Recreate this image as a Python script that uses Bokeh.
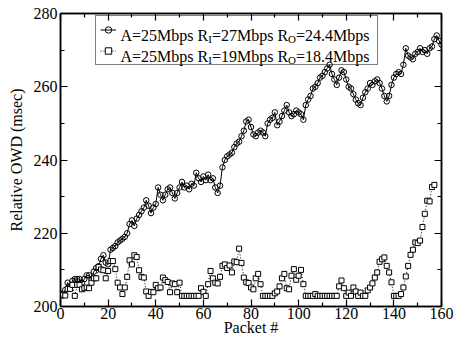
from bokeh.plotting import figure
from bokeh.models import (Range1d, LinearAxis, FixedTicker, Label, Legend,
                          LegendItem, CustomJSTickFormatter)
from bokeh.embed import file_html
from bokeh.resources import INLINE

# ---------------- data ----------------
packets_a = list(range(0, 161))
owd_a = [203.5, 203.0, 204.5, 206.5, 205.5, 207.0, 207.5, 207.5, 207.5, 206.5,
         207.5, 208.5, 208.5, 207.5, 209.5, 210.5, 211.0, 213.0, 214.0, 212.0,
         211.5, 215.5, 216.0, 216.5, 217.5, 218.0, 218.5, 219.0, 220.0, 222.5,
         223.5, 222.0, 224.0, 225.0, 226.0, 227.0, 229.0, 227.5, 225.5, 227.0,
         228.0, 232.5, 230.5, 229.0, 230.5, 232.0, 232.5, 231.0, 229.5, 231.0,
         232.5, 234.0, 232.5, 233.0, 232.0, 233.5, 233.0, 236.5, 235.0, 234.0,
         235.5, 234.5, 236.0, 234.5, 235.0, 232.5, 231.0, 233.0, 238.0, 240.0,
         241.0, 241.5, 242.0, 243.5, 244.5, 245.0, 246.5, 248.0, 250.5, 251.0,
         249.0, 247.0, 246.5, 247.5, 248.0, 247.5, 246.5, 250.0, 251.0, 251.5,
         253.0, 249.5, 250.5, 252.0, 253.5, 255.0, 253.0, 252.0, 252.5, 253.5,
         253.0, 252.5, 251.0, 255.0, 256.5, 257.5, 259.5, 260.0, 261.0, 262.5,
         263.0, 264.0, 265.0, 266.0, 263.5, 262.0, 260.5, 262.5, 264.5, 264.0,
         262.0, 260.0, 259.5, 258.0, 256.5, 255.5, 255.0, 257.0, 258.5, 259.5,
         261.0, 260.5, 261.5, 262.0, 261.0, 259.5, 257.5, 256.0, 257.5, 260.5,
         262.5, 263.5, 264.0, 263.5, 266.0, 270.5, 268.5, 268.0, 267.5, 269.0,
         269.5, 270.5, 269.5, 270.0, 269.0, 270.5, 271.0, 273.0, 274.0, 272.5,
         271.5]

packets_b = list(range(0, 158))
owd_b = [203.2, 203.2, 203.0, 204.8, 204.8, 205.9, 202.9, 205.9, 205.9, 204.7,
         205.0, 205.2, 205.0, 206.5, 207.7, 207.7, 210.8, 210.1, 209.9, 207.7,
         209.7, 212.4, 212.4, 210.2, 206.5, 205.2, 203.4, 205.2, 208.1, 212.6,
         211.5, 214.0, 213.5, 209.9, 208.1, 207.9, 204.1, 202.9, 204.0, 203.9,
         205.9, 205.0, 205.2, 207.9, 207.2, 206.7, 203.9, 206.3, 206.1, 203.9,
         206.5, 202.9, 202.9, 202.9, 202.9, 202.9, 202.9, 202.9, 202.9, 205.0,
         204.0, 202.9, 206.1, 209.7, 207.7, 206.5, 206.3, 208.1, 211.1, 211.5,
         210.5, 211.2, 209.3, 212.3, 212.1, 215.8, 211.9, 207.9, 206.6, 206.4,
         205.2, 204.7, 207.7, 208.9, 206.1, 202.9, 202.9, 202.9, 202.9, 202.9,
         203.6, 204.1, 205.5, 207.7, 208.9, 205.0, 204.7, 208.4, 210.2, 207.3,
         208.4, 210.0, 206.1, 202.9, 202.9, 202.9, 202.9, 203.4, 202.9, 202.9,
         202.9, 202.9, 202.9, 202.9, 202.9, 202.9, 202.9, 205.5, 207.1, 205.0,
         202.9, 203.8, 202.9, 205.2, 204.1, 202.9, 203.8, 202.9, 202.9, 204.4,
         205.2, 206.3, 207.9, 209.3, 212.2, 212.9, 213.4, 211.1, 209.3, 206.6,
         202.9, 202.9, 202.9, 203.4, 205.2, 208.2, 211.1, 214.1, 215.5, 217.5,
         217.3, 218.0, 221.7, 225.3, 228.9, 228.7, 232.6, 233.2]

x_major_ticks = [0, 20, 40, 60, 80, 100, 120, 140, 160]
x_minor_ticks = [10, 30, 50, 70, 90, 110, 130, 150]
y_major_ticks = [200, 220, 240, 260, 280]
y_minor_ticks = [210, 230, 250, 270]

x_title = "Packet #"
y_title = "Relative OWD (msec)"

# legend text pieces: (text, is_subscript)
legend_a = [("A=25Mbps R", False), ("I", True), ("=27Mbps R", False), ("O", True), ("=24.4Mbps", False)]
legend_b = [("A=25Mbps R", False), ("I", True), ("=19Mbps R", False), ("O", True), ("=18.4Mbps", False)]

FONT = "Liberation Serif"

# ---------------- figure ----------------
p = figure(width=458, height=339, output_backend="svg", toolbar_location=None,
           x_range=Range1d(0, 160), y_range=Range1d(200, 280),
           min_border_left=60, min_border_right=17, min_border_top=13,
           min_border_bottom=33, x_axis_label=x_title, y_axis_label=y_title)
p.xgrid.visible = False
p.ygrid.visible = False
p.outline_line_color = "black"
p.outline_line_width = 1.5
p.background_fill_color = "white"
p.border_fill_color = "white"

xt = FixedTicker(ticks=x_major_ticks, minor_ticks=x_minor_ticks)
yt = FixedTicker(ticks=y_major_ticks, minor_ticks=y_minor_ticks)

def style_axis(ax, labels=True):
    ax.axis_line_color = "black"
    ax.axis_line_width = 1.5
    ax.major_tick_in = 7
    ax.major_tick_out = 0
    ax.minor_tick_in = 4
    ax.minor_tick_out = 0
    ax.major_tick_line_width = 1.2
    ax.minor_tick_line_width = 1.2
    ax.major_label_text_font = FONT
    ax.major_label_text_font_size = "16px"
    ax.major_label_text_color = "black"
    ax.axis_label_text_font = FONT
    ax.axis_label_text_font_size = "16px"
    ax.axis_label_text_font_style = "normal"
    ax.axis_label_text_color = "black"
    if not labels:
        ax.formatter = CustomJSTickFormatter(code="return ''")
        ax.major_label_text_font_size = "0px"
        ax.major_label_standoff = 0

p.xaxis.ticker = xt
p.yaxis.ticker = yt
style_axis(p.xaxis[0])
style_axis(p.yaxis[0])
p.xaxis.major_label_standoff = 1
p.xaxis.axis_label_standoff = -3
p.yaxis.major_label_standoff = 3
p.yaxis.axis_label_standoff = 6

top_ax = LinearAxis(ticker=xt)
right_ax = LinearAxis(ticker=yt)
style_axis(top_ax, labels=False)
style_axis(right_ax, labels=False)
p.add_layout(top_ax, "above")
p.add_layout(right_ax, "right")

# ---------------- series ----------------
la = p.line(packets_a, owd_a, line_color="black", line_width=1)
sa = p.scatter(packets_a, owd_a, marker="circle", size=5.5, line_color="black",
               line_width=1, fill_alpha=0)
lb = p.line(packets_b, owd_b, line_color="black", line_width=1, line_dash="1 2")
sb = p.scatter(packets_b, owd_b, marker="square", size=5, line_color="black",
               line_width=1, fill_color="white")

legend = Legend(items=[LegendItem(label=" ", renderers=[la, sa]),
                       LegendItem(label=" ", renderers=[lb, sb])],
                location=(35, 241), orientation="vertical",
                padding=4, spacing=2, margin=0,
                glyph_width=16, glyph_height=19, label_height=19,
                label_width=252, label_standoff=5,
                label_text_font=FONT, label_text_font_size="16px",
                border_line_color="black", border_line_width=1,
                background_fill_alpha=0)
p.add_layout(legend)

# subscripted legend text (legend box is transparent, so these show through)
x_start = 25.2
row_baselines = [274.05, 268.33]
sub_drop = 1.1
offsets = [0.0, 87.7, 91.4, 167.5, 175.4]
for pieces, yb in zip([legend_a, legend_b], row_baselines):
    for (txt, sub), off in zip(pieces, offsets):
        p.add_layout(Label(x=x_start, y=yb - (sub_drop if sub else 0.0), x_offset=off,
                           text=txt, text_font=FONT,
                           text_font_size="11px" if sub else "16px",
                           text_baseline="alphabetic", text_align="left",
                           text_color="black"))

open("out.html", "w").write(file_html(p, INLINE))
